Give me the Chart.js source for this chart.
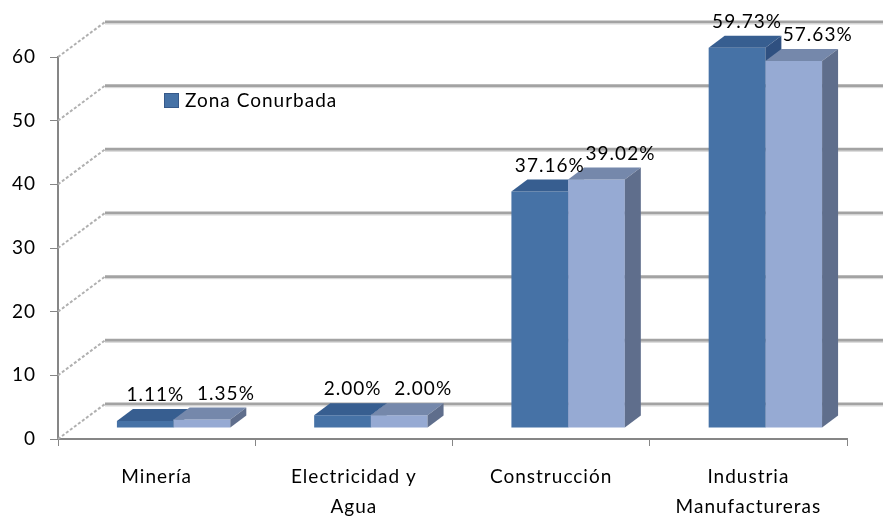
<!DOCTYPE html>
<html><head><meta charset="utf-8">
<script src="https://cdn.jsdelivr.net/npm/chart.js@4/dist/chart.umd.min.js"></script>
<style>html,body{margin:0;padding:0;background:#fff}#wrap{width:883px;height:518px}</style>
</head><body><div id="wrap"><canvas id="c" width="883" height="518"></canvas></div>
<script>
const categories = [["Minería"], ["Electricidad y", "Agua"], ["Construcción"], ["Industria", "Manufactureras"]];
const seriesNames = ["Zona Conurbada", "Serie 2"];
const zonaConurbada = [1.11, 2.00, 37.16, 59.73];
const serie2 = [1.35, 2.00, 39.02, 57.63];
const yTicks = [0, 10, 20, 30, 40, 50, 60];

const FONT = 'Lato';
const FSIZE = 19;
const LS = '1px';
const COLORS = [
  {front: '#4672a6', top: '#375e90', side: '#2f5080'},
  {front: '#96aad3', top: '#7588ab', side: '#5f6e8c'}
];
const BAR_SHIFT = {x: 17, y: -11};
const BAR_DEPTH = {x: 16, y: -12};
const WALL = {x: 47, y: -35};

function face(ctx, pts, color) {
  ctx.beginPath();
  ctx.moveTo(pts[0][0], pts[0][1]);
  for (let i = 1; i < pts.length; i++) ctx.lineTo(pts[i][0], pts[i][1]);
  ctx.closePath();
  ctx.fillStyle = color;
  ctx.fill();
}
function barFaces(ctx, el, col, drawSide) {
  const w = el.width, L = el.x - w / 2, R = el.x + w / 2, T = el.y, B = el.base;
  const dx = BAR_DEPTH.x, dy = BAR_DEPTH.y;
  face(ctx, [[L, T], [R, T], [R + dx, T + dy], [L + dx, T + dy]], col.top);
  if (drawSide) face(ctx, [[R, T], [R + dx, T + dy], [R + dx, B + dy], [R, B]], col.side);
}

const plugin3d = {
  id: 'plugin3d',
  beforeUpdate(c) { c.ctx.letterSpacing = LS; },
  beforeDraw(c) { c.ctx.letterSpacing = LS; },
  beforeDatasetsDraw(chart) {
    const ctx = chart.ctx, ys = chart.scales.y, ca = chart.chartArea;
    ctx.save();
    yTicks.forEach(v => {
      const y = ys.getPixelForValue(v);
      ctx.setLineDash([3, 2]);
      ctx.strokeStyle = '#b0b0b0';
      ctx.lineWidth = 2;
      ctx.beginPath();
      ctx.moveTo(ca.left, y);
      ctx.lineTo(ca.left + WALL.x, y + WALL.y);
      ctx.stroke();
      ctx.setLineDash([]);
      ctx.strokeStyle = '#a3a3a3';
      ctx.lineWidth = 3;
      ctx.beginPath();
      ctx.moveTo(ca.left + WALL.x, y + WALL.y);
      ctx.lineTo(chart.width, y + WALL.y);
      ctx.stroke();
      ctx.strokeStyle = '#d6d6d6';
      ctx.lineWidth = 1;
      ctx.beginPath();
      ctx.moveTo(ca.left + WALL.x, y + WALL.y + 2);
      ctx.lineTo(chart.width, y + WALL.y + 2);
      ctx.stroke();
    });
    ctx.restore();
    ctx.save();
    ctx.translate(BAR_SHIFT.x, BAR_SHIFT.y);
  },
  afterDatasetsDraw(chart) {
    const ctx = chart.ctx;
    const m0 = chart.getDatasetMeta(0), m1 = chart.getDatasetMeta(1);
    m0.data.forEach((d, i) => {
      const l = m1.data[i];
      ctx.save();
      ctx.beginPath();
      ctx.rect(-100, -100, chart.width + 200, chart.height + 200);
      ctx.rect(l.x - l.width / 2, l.y, l.width, l.base - l.y);
      ctx.clip('evenodd');
      barFaces(ctx, d, COLORS[0], true);
      ctx.restore();
      barFaces(ctx, l, COLORS[1], true);
    });
    ctx.restore();
    // data labels
    ctx.save();
    ctx.letterSpacing = LS;
    ctx.font = FSIZE + 'px ' + FONT;
    ctx.fillStyle = '#000';
    ctx.textAlign = 'center';
    ctx.textBaseline = 'middle';
    [m0, m1].forEach((m, di) => {
      const vals = chart.data.datasets[di].data;
      m.data.forEach((el, i) => {
        const off = di === 0 ? 10 : 24;
        ctx.fillText(vals[i].toFixed(2) + '%', el.x + BAR_SHIFT.x + off, el.y + BAR_SHIFT.y - 26);
      });
    });
    // legend (first series only)
    ctx.fillStyle = COLORS[0].front;
    ctx.fillRect(164, 93, 15, 15);
    ctx.strokeStyle = '#36598a';
    ctx.lineWidth = 1;
    ctx.strokeRect(164.5, 93.5, 14, 14);
    ctx.fillStyle = '#000';
    ctx.textAlign = 'left';
    ctx.fillText(chart.data.datasets[0].label, 185, 101);
    ctx.restore();
  }
};

new Chart(document.getElementById('c'), {
  type: 'bar',
  data: {
    labels: categories,
    datasets: [
      {label: seriesNames[0], data: zonaConurbada, backgroundColor: COLORS[0].front, borderWidth: 0},
      {label: seriesNames[1], data: serie2, backgroundColor: COLORS[1].front, borderWidth: 0}
    ]
  },
  options: {
    responsive: false,
    animation: false,
    devicePixelRatio: 1,
    layout: {padding: {top: 57, right: 36, left: 0, bottom: 0}},
    datasets: {bar: {categoryPercentage: 0.575, barPercentage: 1, clip: false}},
    plugins: {legend: {display: false}, tooltip: {enabled: false}},
    scales: {
      x: {
        grid: {offset: true, drawOnChartArea: false, drawTicks: true, tickLength: 7, color: '#868686'},
        border: {display: true, color: '#868686', width: 2},
        ticks: {font: {family: FONT, size: FSIZE, lineHeight: 30 / FSIZE}, color: '#000', padding: 16, maxRotation: 0, autoSkip: false},
        afterFit(s) { s.height = 79; }
      },
      y: {
        min: 0, max: 60,
        grid: {drawOnChartArea: false, drawTicks: true, tickLength: 8, color: '#868686'},
        border: {display: true, color: '#868686', width: 2},
        ticks: {stepSize: 10, font: {family: FONT, size: FSIZE}, color: '#000', padding: 14},
        afterFit(s) { s.width = 58; }
      }
    }
  },
  plugins: [plugin3d]
});
</script>
</body></html>
